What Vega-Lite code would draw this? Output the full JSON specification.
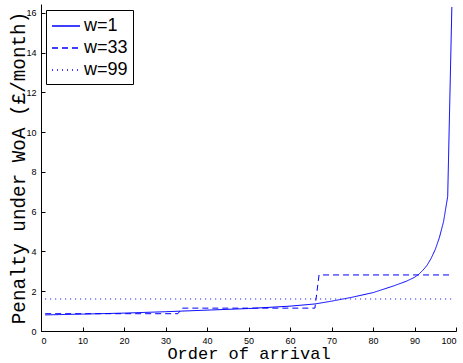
{
  "$schema": "https://vega.github.io/schema/vega-lite/v6.json",
  "width": 415,
  "height": 327,
  "autosize": {"type": "none"},
  "padding": {"left": 41, "top": 4, "right": 7, "bottom": 32},
  "background": "white",
  "config": {
    "view": {"stroke": null},
    "axis": {
      "domainColor": "black",
      "tickColor": "black",
      "tickSize": -4,
      "labelFont": "Liberation Sans",
      "labelFontSize": 9,
      "labelColor": "black",
      "grid": false,
      "titleFont": "Liberation Mono",
      "titleFontSize": 17,
      "titleFontWeight": "normal",
      "titleColor": "black"
    },
    "legend": {
      "orient": "none",
      "legendX": 5,
      "legendY": 6,
      "strokeColor": "black",
      "fillColor": "white",
      "padding": 5,
      "labelFont": "Liberation Sans",
      "labelFontSize": 18,
      "labelColor": "black",
      "symbolType": "M-1,0H1.8",
      "symbolSize": 400,
      "symbolStrokeWidth": 1.5,
      "symbolStrokeColor": "blue",
      "symbolFillColor": "transparent",
      "rowPadding": 2,
      "labelOffset": 11
    }
  },
  "data": {
    "values": [
      {"x": 1, "y": 0.81, "series": "w=1"},
      {"x": 10, "y": 0.85, "series": "w=1"},
      {"x": 20, "y": 0.9, "series": "w=1"},
      {"x": 30, "y": 0.97, "series": "w=1"},
      {"x": 40, "y": 1.05, "series": "w=1"},
      {"x": 50, "y": 1.13, "series": "w=1"},
      {"x": 60, "y": 1.25, "series": "w=1"},
      {"x": 66, "y": 1.36, "series": "w=1"},
      {"x": 70, "y": 1.5, "series": "w=1"},
      {"x": 75, "y": 1.7, "series": "w=1"},
      {"x": 80, "y": 1.93, "series": "w=1"},
      {"x": 85, "y": 2.27, "series": "w=1"},
      {"x": 88, "y": 2.5, "series": "w=1"},
      {"x": 90, "y": 2.7, "series": "w=1"},
      {"x": 91, "y": 2.85, "series": "w=1"},
      {"x": 92, "y": 3.05, "series": "w=1"},
      {"x": 93, "y": 3.3, "series": "w=1"},
      {"x": 94, "y": 3.65, "series": "w=1"},
      {"x": 95, "y": 4.1, "series": "w=1"},
      {"x": 96, "y": 4.7, "series": "w=1"},
      {"x": 97, "y": 5.5, "series": "w=1"},
      {"x": 98, "y": 6.77, "series": "w=1"},
      {"x": 99, "y": 16.3, "series": "w=1"},
      {"x": 1, "y": 0.87, "series": "w=33"},
      {"x": 33, "y": 0.87, "series": "w=33"},
      {"x": 34, "y": 1.15, "series": "w=33"},
      {"x": 66, "y": 1.15, "series": "w=33"},
      {"x": 67, "y": 2.82, "series": "w=33"},
      {"x": 99, "y": 2.82, "series": "w=33"},
      {"x": 1, "y": 1.61, "series": "w=99"},
      {"x": 99, "y": 1.61, "series": "w=99"}
    ]
  },
  "mark": {"type": "line", "strokeWidth": 1},
  "encoding": {
    "x": {
      "field": "x",
      "type": "quantitative",
      "scale": {"domain": [0, 100], "nice": false},
      "axis": {"values": [0,10,20,30,40,50,60,70,80,90,100], "title": "Order of arrival", "titlePadding": 0, "labelPadding": 9}
    },
    "y": {
      "field": "y",
      "type": "quantitative",
      "scale": {"domain": [0, 16.45], "nice": false, "zero": true},
      "axis": {"values": [0,2,4,6,8,10,12,14,16], "title": "Penalty under WoA (£/month)", "titleFontSize": 19.3, "titlePadding": -3, "labelPadding": 9}
    },
    "color": {
      "field": "series",
      "type": "nominal",
      "scale": {"domain": ["w=1", "w=33", "w=99"], "range": ["#0000ff", "#0000ff", "#0000ff"]},
      "legend": {"title": null}
    },
    "strokeDash": {
      "field": "series",
      "type": "nominal",
      "scale": {"domain": ["w=1", "w=33", "w=99"], "range": [[1, 0], [6, 4], [1, 4]]},
      "legend": {"title": null}
    }
  }
}
